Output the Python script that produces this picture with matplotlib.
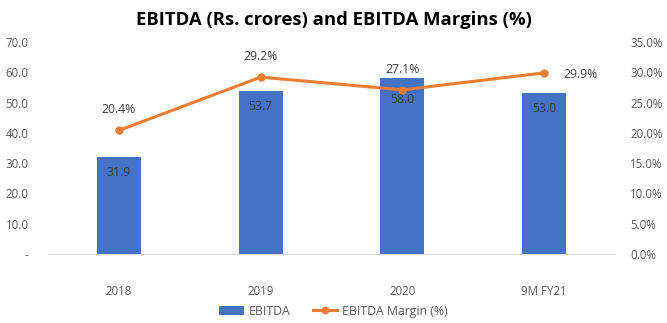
import matplotlib.pyplot as plt
import numpy as np

years = ['2018', '2019', '2020', '9M FY21']
ebitda = [31.9, 53.7, 58.0, 53.0]
margin = [20.4, 29.2, 27.1, 29.9]

plt.rcParams['font.family'] = ['Open Sans', 'DejaVu Sans']

fig = plt.figure(figsize=(6.67, 3.23), dpi=100)
ax = fig.add_axes([0.072, 0.2136, 0.85, 0.6564])
ax2 = ax.twinx()

x = np.arange(len(years))
ax.bar(x, ebitda, width=0.31, color='#4472C4', label='EBITDA', zorder=2)
ax2.plot(x, margin, color='#ED7D31', lw=2.2, marker='o', ms=5, label='EBITDA Margin (%)', zorder=3)

ax.set_xlim(-0.5, len(years) - 0.5)
ax.set_ylim(0, 70)
ax2.set_ylim(0, 35)
ax.set_yticks(np.arange(0, 71, 10))
ax.set_yticklabels(['-'] + ['%.1f' % v for v in np.arange(10, 71, 10)])
ax2.set_yticks(np.arange(0, 36, 5))
ax2.set_yticklabels(['%.1f%%' % v for v in np.arange(0, 36, 5)])
ax.set_xticks(x)
ax.set_xticklabels(years)

for a in (ax, ax2):
    for s in ['top', 'left', 'right', 'bottom']:
        a.spines[s].set_visible(False)
    a.tick_params(length=0, labelsize=8.3, labelcolor='#595959')
ax.spines['bottom'].set_visible(True)
ax.spines['bottom'].set_color('#D9D9D9')
ax.tick_params(axis='x', pad=22)
ax.tick_params(axis='y', pad=14)
ax2.tick_params(axis='y', pad=11)

# inside-end labels; the 2020 one sits lower, under the line
bar_off = [-11, -11, -15.5, -11]
for xi, v, off in zip(x, ebitda, bar_off):
    ax.annotate('%.1f' % v, (xi, v), xytext=(0, off), textcoords='offset points',
                ha='center', va='center', fontsize=8.8, color='#404040', zorder=4)
for i, (xi, v) in enumerate(zip(x, margin)):
    if i == len(margin) - 1:
        ax2.annotate('%.1f%%' % v, (xi, v), xytext=(26, -1), textcoords='offset points',
                     ha='center', va='center', fontsize=8.8, color='#404040')
    else:
        ax2.annotate('%.1f%%' % v, (xi, v), xytext=(0, 15), textcoords='offset points',
                     ha='center', va='center', fontsize=8.8, color='#404040')

fig.suptitle('EBITDA (Rs. crores) and EBITDA Margins (%)', y=0.965, fontsize=13.3,
             fontweight='bold', color='#000000')

h1, l1 = ax.get_legend_handles_labels()
h2, l2 = ax2.get_legend_handles_labels()
fig.legend(h1 + h2, l1 + l2, loc='center', bbox_to_anchor=(0.5, 0.037), ncol=2,
           frameon=False, fontsize=8.8, labelcolor='#595959', handlelength=2.0,
           handletextpad=0.4, columnspacing=1.8, markerscale=0.9)

fig.savefig('out.png', dpi=100)
